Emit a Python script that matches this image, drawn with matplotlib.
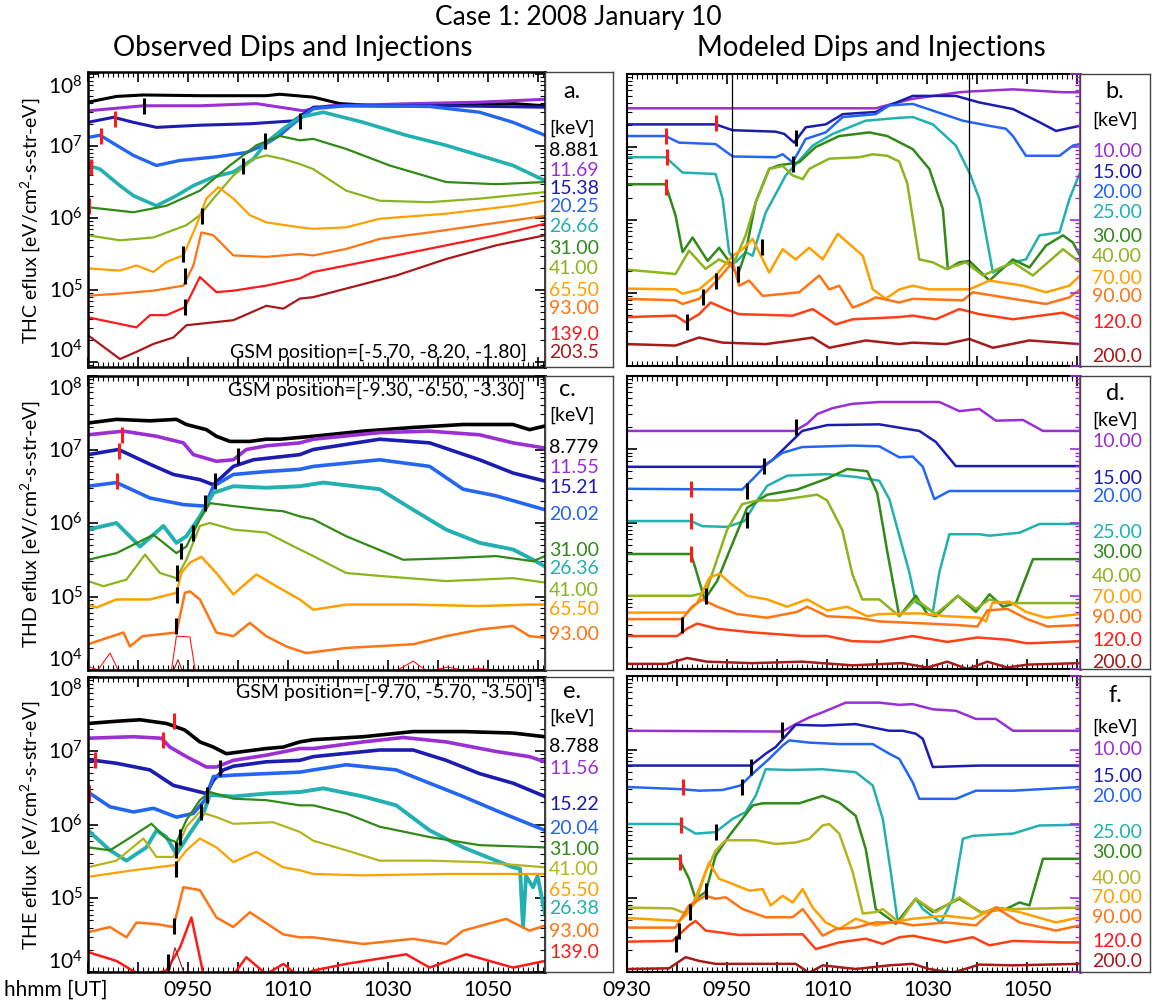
import matplotlib
matplotlib.use('Agg')
import matplotlib.pyplot as plt
import matplotlib.transforms as mtransforms
import numpy as np
from matplotlib.ticker import MultipleLocator, FuncFormatter, LogLocator, NullFormatter

plt.rcParams['font.family'] = ['Lato', 'DejaVu Sans']
plt.rcParams['mathtext.fontset'] = 'custom'
plt.rcParams['mathtext.rm'] = 'Lato'
plt.rcParams['mathtext.it'] = 'Lato:italic'

# time = minutes after 09:30 UT, flux given as log10(eV/cm2-s-str-eV)

# ---- panel a: THC observed ----
a_energy = ['8.881', '11.69', '15.38', '20.25', '26.66', '31.00', '41.00', '65.50', '93.00', '139.0', '203.5']
a_time = [
    [0, 5.7, 11.1, 22.4, 35.7, 38.4, 45.1, 50.4, 58.4, 71.7, 85.1, 91.5],
    [0, 11.1, 22.4, 33.7, 40.4, 43.1, 48.4, 65.1, 78.4, 91.5],
    [0, 5.1, 9.1, 13.7, 22.4, 32.4, 41.1, 45.1, 51.7, 71.7, 91.5],
    [0, 2.4, 9.1, 13.7, 18.4, 25.7, 31.7, 35.1, 38.4, 41.1, 45.1, 51.7, 68.4, 78.4, 85.1, 91.5],
    [0, 2.4, 6.4, 9.1, 13.7, 17.7, 21.1, 25.1, 29.1, 33.1, 35.7, 39.1, 42.4, 47.1, 55.1, 63.7, 71.7, 78.4, 85.1, 91.5],
    [0, 9.1, 15.7, 22.4, 28.4, 33.7, 38.4, 42.4, 45.1, 51.7, 60.4, 71.7, 81.7, 91.5],
    [0, 6.4, 13.1, 19.7, 22.4, 25.1, 29.1, 33.1, 35.7, 39.1, 42.4, 45.1, 51.7, 58.4, 68.4, 78.4, 91.5],
    [0, 6.4, 9.7, 13.1, 15.7, 19.1, 21.7, 23.7, 26.1, 29.1, 32.4, 35.7, 42.4, 45.1, 51.7, 58.4, 71.7, 85.1, 91.5],
    [0, 6.4, 13.1, 19.1, 21.1, 22.7, 25.1, 29.1, 35.7, 42.4, 45.1, 51.7, 58.4, 68.4, 78.4, 91.5],
    [0, 9.7, 12.4, 15.7, 19.4, 22.4, 25.7, 29.1, 35.7, 42.4, 45.1, 51.7, 61.7, 71.7, 81.7, 91.5],
    [0, 6.4, 9.7, 13.1, 17.1, 19.7, 29.1, 35.7, 39.1, 42.4, 45.1, 51.7, 61.7, 71.7, 81.7, 91.5],
]
a_logf = [
    [7.61, 7.69, 7.71, 7.70, 7.70, 7.72, 7.68, 7.59, 7.56, 7.57, 7.59, 7.56],
    [7.49, 7.56, 7.56, 7.59, 7.52, 7.49, 7.56, 7.59, 7.61, 7.65],
    [7.33, 7.40, 7.33, 7.26, 7.29, 7.31, 7.35, 7.54, 7.56, 7.56, 7.54],
    [7.12, 7.15, 6.87, 6.73, 6.80, 6.85, 6.91, 7.01, 7.15, 7.31, 7.52, 7.56, 7.55, 7.47, 7.33, 7.15],
    [6.73, 6.68, 6.45, 6.31, 6.17, 6.31, 6.45, 6.57, 6.64, 6.82, 7.05, 7.24, 7.40, 7.47, 7.33, 7.15, 7.01, 6.87, 6.73, 6.52],
    [6.15, 6.08, 6.17, 6.38, 6.73, 7.01, 7.14, 7.08, 7.10, 6.96, 6.73, 6.50, 6.47, 6.50],
    [5.76, 5.69, 5.73, 5.90, 6.04, 6.27, 6.59, 6.82, 6.87, 6.82, 6.75, 6.68, 6.38, 6.24, 6.22, 6.27, 6.36],
    [5.30, 5.27, 5.34, 5.25, 5.39, 5.48, 5.90, 6.27, 6.43, 6.27, 6.04, 5.94, 5.87, 5.85, 5.87, 5.99, 6.06, 6.17, 6.24],
    [4.92, 4.95, 4.99, 5.06, 5.34, 5.80, 5.76, 5.48, 5.46, 5.50, 5.48, 5.57, 5.71, 5.80, 5.90, 6.03],
    [4.62, 4.48, 4.65, 4.65, 4.76, 5.18, 4.97, 4.99, 5.06, 5.16, 5.25, 5.34, 5.48, 5.62, 5.76, 5.92],
    [4.37, 4.04, 4.14, 4.25, 4.34, 4.51, 4.58, 4.78, 4.74, 4.88, 4.90, 5.02, 5.20, 5.43, 5.62, 5.76],
]
a_red_t = [5.4, 2.7, 0.6, 0.2]
a_red_v = [7.38, 7.14, 6.71, 6.17]
a_blk_t = [11.2, 42.4, 35.4, 31.0, 22.8, 19.0, 19.4, 19.4]
a_blk_v = [7.56, 7.35, 7.07, 6.72, 6.03, 5.50, 5.20, 4.77]

# ---- panel c: THD observed ----
c_energy = ['8.779', '11.55', '15.21', '20.02', '31.00', '26.36', '41.00', '65.50', '93.00']
c_time = [
    [0, 5.7, 12.4, 17.7, 19.7, 23.7, 25.7, 28.4, 32.4, 35.7, 38.4, 45.1, 55.1, 65.1, 75.1, 85.1, 88.4, 91.5],
    [0, 7.1, 13.7, 19.1, 21.1, 25.7, 29.1, 31.7, 35.7, 42.4, 45.1, 58.4, 68.4, 78.4, 85.1, 91.5],
    [0, 6.1, 12.4, 17.1, 22.4, 25.1, 29.1, 33.1, 42.4, 45.1, 58.4, 68.4, 78.4, 85.1, 91.5],
    [0, 5.7, 12.4, 19.1, 23.4, 25.1, 29.1, 35.7, 42.4, 45.1, 58.4, 68.4, 75.1, 81.7, 91.5],
    [0, 5.7, 10.4, 15.1, 17.7, 19.7, 22.4, 25.1, 29.1, 35.7, 42.4, 47.1, 58.4, 65.1, 71.7, 78.4, 85.1, 89.1, 91.5],
    [0, 5.7, 13.1, 17.7, 19.7, 22.4, 24.4, 29.1, 35.7, 39.1, 42.4, 45.1, 51.7, 63.1, 71.7, 81.7, 89.1, 91.5],
    [0, 3.1, 7.7, 11.4, 14.4, 17.7, 19.7, 22.4, 24.4, 29.1, 35.7, 42.4, 45.1, 51.7, 58.4, 71.7, 85.1, 91.5],
    [0, 1.7, 5.7, 12.4, 17.7, 18.7, 20.4, 22.7, 25.7, 29.1, 33.7, 37.7, 42.4, 45.1, 51.7, 65.1, 78.4, 88.4, 91.5],
    [0, 7.1, 8.4, 10.9, 17.7, 19.4, 20.4, 22.4, 25.7, 29.1, 32.4, 35.7, 39.7, 43.7, 51.7, 65.1, 71.7, 78.4, 85.1, 88.4, 91.5],
    [0, 2.0, 4.4, 6.4, 9.0, 16.5, 17.7, 20.4, 21.7, 25.0, 50.0, 55.0, 58.4, 62.0, 65.1, 68.0, 72.0, 75.0, 78.0, 82.0, 91.5],
    [0, 16.0, 18.0, 20.0, 91.5],
]
c_logf = [
    [7.36, 7.41, 7.39, 7.41, 7.34, 7.27, 7.18, 7.11, 7.11, 7.14, 7.14, 7.18, 7.25, 7.30, 7.34, 7.34, 7.27, 7.32],
    [7.20, 7.25, 7.18, 7.09, 6.93, 6.84, 6.86, 7.00, 7.05, 7.09, 7.14, 7.23, 7.25, 7.20, 7.09, 7.02],
    [6.93, 7.00, 6.80, 6.66, 6.59, 6.52, 6.77, 6.86, 6.93, 7.00, 7.14, 7.09, 6.86, 6.68, 6.57],
    [6.50, 6.55, 6.34, 6.25, 6.23, 6.50, 6.66, 6.70, 6.73, 6.77, 6.86, 6.77, 6.46, 6.37, 6.18],
    [5.91, 6.00, 5.68, 5.96, 5.73, 5.82, 6.09, 6.41, 6.50, 6.48, 6.50, 6.55, 6.46, 6.18, 5.91, 5.73, 5.64, 5.50, 5.41],
    [5.50, 5.59, 5.84, 5.59, 5.68, 6.05, 6.27, 6.23, 6.18, 6.16, 6.09, 6.05, 5.82, 5.50, 5.52, 5.55, 5.48, 5.55],
    [5.21, 5.14, 5.23, 5.57, 5.32, 5.25, 5.50, 5.96, 6.00, 5.91, 5.87, 5.64, 5.55, 5.32, 5.28, 5.21, 5.25, 5.19],
    [4.89, 4.85, 4.96, 4.96, 5.05, 5.32, 5.46, 5.54, 5.32, 5.03, 5.30, 5.14, 4.96, 4.82, 4.89, 4.89, 4.87, 4.89, 4.89],
    [4.35, 4.51, 4.32, 4.46, 4.51, 5.05, 5.07, 4.96, 4.51, 4.46, 4.64, 4.46, 4.32, 4.23, 4.30, 4.35, 4.46, 4.55, 4.60, 4.46, 4.44],
    [4.05, 4.00, 4.23, 3.95, 3.90, 3.90, 4.46, 4.45, 3.90, 3.80, 3.90, 4.00, 3.97, 4.00, 4.12, 3.98, 4.04, 4.00, 4.02, 4.00, 3.90],
    [3.80, 3.80, 4.14, 3.80, 3.80],
]
c_red_t = [6.9, 6.2, 5.9]
c_red_v = [7.20, 6.98, 6.57]
c_blk_t = [30.1, 25.4, 23.4, 21.1, 18.7, 17.9, 17.9, 17.7]
c_blk_v = [6.91, 6.57, 6.27, 5.86, 5.62, 5.32, 5.02, 4.60]

# ---- panel e: THE observed ----
e_energy = ['8.788', '11.56', '15.22', '20.04', '31.00', '41.00', '65.50', '26.38', '93.00', '139.0']
e_time = [
    [0, 5.7, 10.4, 15.7, 17.4, 19.4, 22.4, 25.1, 27.7, 31.1, 35.7, 39.1, 42.4, 45.1, 55.1, 65.1, 75.1, 85.1, 91.5],
    [0, 9.1, 14.7, 16.4, 19.7, 23.7, 25.7, 29.1, 35.7, 42.4, 45.1, 55.1, 63.1, 71.7, 81.7, 88.4, 91.5],
    [0, 5.7, 12.4, 17.1, 23.7, 25.1, 27.1, 29.1, 35.7, 42.4, 45.1, 58.4, 65.1, 71.7, 78.4, 85.1, 91.5],
    [0, 4.4, 9.1, 13.1, 17.7, 21.1, 23.4, 25.1, 29.1, 35.7, 42.4, 45.1, 51.7, 61.7, 68.4, 75.1, 81.7, 91.5],
    [0, 4.4, 7.7, 11.7, 13.7, 15.7, 17.7, 20.4, 23.1, 24.4, 29.1, 35.7, 42.4, 47.1, 55.1, 61.7, 68.4, 75.1, 81.7, 85.1, 86.5, 87.1, 87.7, 89.1, 90.0, 91.5],
    [0, 4.4, 7.7, 12.7, 15.7, 17.7, 19.7, 22.4, 24.4, 29.1, 35.7, 42.4, 45.1, 51.7, 58.4, 68.4, 78.4, 91.5],
    [0, 5.7, 11.1, 13.7, 17.1, 19.7, 22.4, 25.7, 29.1, 37.1, 42.4, 45.1, 51.7, 58.4, 68.4, 78.4, 91.5],
    [0, 9.1, 17.4, 19.7, 22.4, 25.7, 29.1, 33.7, 39.1, 42.4, 45.1, 55.1, 71.7, 85.1, 91.5],
    [0, 4.4, 7.7, 9.7, 13.7, 17.1, 19.1, 22.4, 25.7, 29.1, 32.4, 39.1, 42.4, 45.1, 55.1, 65.1, 71.7, 75.1, 83.7, 88.4, 91.5],
    [0, 5.7, 11.1, 15.7, 18.4, 20.7, 23.1, 26.0, 29.0, 31.7, 35.7, 39.1, 42.4, 45.1, 51.7, 63.7, 68.4, 75.7, 85.1, 91.5],
    [0, 16.1, 17.4, 19.7, 91.5],
]
e_logf = [
    [7.37, 7.40, 7.42, 7.37, 7.33, 7.28, 7.12, 7.05, 6.96, 6.99, 7.03, 7.05, 7.12, 7.15, 7.19, 7.26, 7.26, 7.24, 7.19],
    [7.17, 7.19, 7.17, 7.05, 6.92, 6.78, 6.78, 6.87, 6.94, 7.03, 7.03, 7.12, 7.18, 7.12, 6.99, 6.92, 6.85],
    [6.88, 6.83, 6.74, 6.53, 6.42, 6.60, 6.74, 6.79, 6.85, 6.87, 6.92, 7.01, 7.01, 6.87, 6.69, 6.56, 6.38],
    [6.44, 6.24, 6.17, 6.22, 6.10, 6.15, 6.33, 6.65, 6.67, 6.69, 6.71, 6.74, 6.81, 6.74, 6.56, 6.38, 6.19, 5.92],
    [5.92, 5.65, 5.51, 5.69, 5.92, 5.83, 5.60, 5.88, 6.15, 6.40, 6.38, 6.42, 6.44, 6.49, 6.38, 6.26, 5.92, 5.69, 5.51, 5.42, 5.40, 4.61, 5.30, 5.15, 5.30, 4.79],
    [5.69, 5.65, 5.79, 6.01, 5.81, 5.76, 6.06, 6.33, 6.44, 6.35, 6.33, 6.26, 6.26, 6.15, 5.97, 5.83, 5.72, 5.69],
    [5.42, 5.51, 5.81, 5.56, 5.56, 5.97, 6.17, 6.10, 6.01, 6.03, 5.90, 5.78, 5.65, 5.51, 5.51, 5.49, 5.42],
    [5.29, 5.38, 5.45, 5.65, 5.81, 5.69, 5.49, 5.63, 5.42, 5.38, 5.33, 5.31, 5.33, 5.33, 5.33],
    [4.54, 4.61, 4.47, 4.67, 4.65, 4.61, 5.15, 5.11, 4.74, 4.61, 4.81, 4.51, 4.47, 4.47, 4.38, 4.45, 4.38, 4.56, 4.72, 4.56, 4.63],
    [4.27, 4.15, 3.93, 4.02, 4.33, 4.74, 3.97, 3.85, 3.95, 4.20, 3.97, 4.11, 3.93, 4.02, 4.11, 4.24, 4.06, 4.24, 4.06, 4.15],
    [3.80, 3.95, 4.33, 3.90, 3.80],
]
e_red_t = [17.2, 15.1, 1.4, 0.3]
e_red_v = [7.40, 7.15, 6.87, 6.43]
e_blk_t = [26.4, 23.9, 22.6, 18.4, 17.7, 17.6, 17.2, 16.1]
e_blk_v = [6.76, 6.40, 6.17, 5.83, 5.65, 5.40, 4.63, 4.13]

# ---- model energies (panels b, d, f) ----
m_energy = ['10.00', '15.00', '20.00', '25.00', '30.00', '40.00', '70.00', '90.00', '120.0', '200.0']

# ---- panel b: modeled at THC ----
b_time = [
    [0, 49.7, 52.4, 57.1, 66.4, 68.4, 77.1, 87.1, 90.5],
    [0, 17.7, 21.1, 29.7, 31.4, 33.4, 35.7, 39.7, 43.1, 49.7, 52.4, 57.1, 65.7, 70.4, 77.1, 82.4, 85.7, 87.7, 90.5],
    [0, 7.7, 10.4, 17.7, 21.1, 29.7, 31.1, 33.1, 35.7, 39.7, 43.1, 49.7, 52.4, 57.1, 67.1, 72.4, 75.7, 77.1, 79.7, 86.4, 89.1, 90.5],
    [0, 7.7, 11.1, 17.7, 19.1, 20.4, 21.7, 23.7, 25.1, 27.7, 31.7, 37.1, 41.1, 47.7, 54.4, 57.1, 61.1, 65.7, 68.4, 70.4, 73.1, 77.1, 79.7, 82.4, 86.4, 88.4, 90.5],
    [0, 7.7, 9.7, 11.1, 13.1, 16.1, 18.4, 20.1, 22.1, 23.7, 25.7, 28.4, 30.4, 34.4, 37.7, 42.4, 48.4, 52.0, 57.1, 60.4, 63.1, 64.1, 66.4, 68.4, 72.4, 77.1, 80.4, 83.7, 87.1, 89.1, 90.5],
    [0, 9.7, 12.4, 15.7, 18.4, 21.1, 23.7, 25.7, 28.4, 31.1, 33.1, 35.1, 36.4, 40.4, 46.4, 49.1, 52.0, 54.4, 56.0, 58.4, 61.1, 63.7, 67.7, 71.1, 77.1, 81.1, 87.1, 90.5],
    [0, 9.7, 11.1, 14.4, 17.7, 21.1, 23.1, 25.1, 28.4, 31.1, 33.7, 36.4, 39.1, 42.1, 47.1, 49.1, 51.7, 54.4, 57.1, 60.4, 68.4, 72.4, 79.1, 83.7, 88.4, 90.5],
    [0, 9.7, 11.1, 14.4, 17.7, 21.1, 22.4, 24.4, 27.1, 34.4, 38.4, 40.4, 42.4, 45.1, 47.7, 49.7, 54.4, 57.1, 67.1, 69.1, 77.1, 83.7, 88.4, 90.5],
    [0, 9.7, 11.7, 14.4, 16.7, 19.7, 22.4, 33.1, 37.1, 41.7, 45.1, 54.4, 57.1, 61.7, 66.4, 70.4, 77.1, 87.1, 90.5],
    [0, 9.7, 14.4, 19.1, 27.7, 33.1, 37.1, 40.4, 47.7, 54.4, 57.1, 63.7, 68.4, 73.1, 80.4, 90.5],
]
b_logf = [
    [7.53, 7.53, 7.58, 7.66, 7.75, 7.76, 7.79, 7.75, 7.75],
    [7.31, 7.31, 7.23, 7.21, 7.18, 7.06, 7.27, 7.31, 7.45, 7.48, 7.57, 7.70, 7.70, 7.61, 7.52, 7.34, 7.22, 7.25, 7.29],
    [7.15, 7.15, 7.06, 7.04, 6.87, 6.86, 6.90, 6.79, 7.11, 7.20, 7.41, 7.45, 7.57, 7.59, 7.36, 7.29, 7.25, 7.15, 6.88, 6.88, 7.02, 7.04],
    [6.86, 6.86, 6.65, 6.63, 6.29, 5.56, 5.42, 5.56, 5.51, 6.10, 6.61, 7.02, 7.18, 7.36, 7.40, 7.41, 7.31, 7.02, 6.65, 6.29, 5.28, 5.42, 5.46, 5.79, 5.83, 6.29, 6.65],
    [6.49, 6.49, 6.06, 5.56, 5.76, 5.44, 5.62, 5.46, 5.24, 5.56, 6.24, 6.70, 6.75, 6.79, 7.00, 7.15, 7.20, 7.15, 6.97, 6.70, 6.15, 5.33, 5.42, 5.44, 5.17, 5.46, 5.35, 5.65, 5.79, 5.69, 5.51],
    [5.32, 5.26, 5.58, 5.33, 5.46, 5.37, 5.79, 6.24, 6.70, 6.74, 6.61, 6.56, 6.70, 6.84, 6.86, 6.90, 6.88, 6.80, 6.50, 5.46, 5.42, 5.33, 5.42, 5.24, 5.42, 5.24, 5.60, 5.42],
    [5.06, 5.05, 4.99, 5.05, 5.24, 5.51, 5.60, 5.74, 5.28, 5.60, 5.46, 5.62, 5.46, 5.81, 5.51, 5.05, 4.92, 5.05, 5.10, 5.05, 5.05, 5.17, 5.10, 5.01, 5.10, 5.24],
    [4.92, 4.90, 4.85, 4.92, 5.15, 5.42, 5.10, 5.17, 4.96, 5.01, 5.24, 5.05, 5.10, 4.80, 4.87, 4.94, 4.87, 4.92, 4.90, 5.01, 4.92, 4.85, 4.94, 5.05],
    [4.67, 4.69, 4.60, 4.71, 4.87, 4.78, 4.71, 4.69, 4.78, 4.57, 4.64, 4.67, 4.69, 4.64, 4.78, 4.71, 4.64, 4.73, 4.64],
    [4.30, 4.28, 4.39, 4.32, 4.30, 4.35, 4.39, 4.25, 4.35, 4.30, 4.32, 4.30, 4.37, 4.25, 4.35, 4.30],
]
b_red_t = [17.7, 7.7, 7.9, 7.7]
b_red_v = [7.33, 7.15, 6.86, 6.45]
b_blk_t = [33.7, 33.1, 26.9, 22.1, 17.7, 15.1, 11.9]
b_blk_v = [7.12, 6.77, 5.63, 5.26, 5.17, 4.94, 4.60]
b_vlines = [20.9, 68.4]

# ---- panel d: modeled at THD ----
d_time = [
    [0, 33.5, 36.0, 38.0, 41.0, 45.0, 50.4, 62.4, 66.4, 70.4, 73.7, 79.1, 83.1, 90.5],
    [0, 27.0, 29.0, 32.0, 35.0, 40.0, 50.4, 58.4, 61.7, 65.7, 90.5],
    [0, 23.0, 25.5, 28.0, 31.0, 35.0, 45.0, 50.4, 54.4, 57.1, 59.1, 61.4, 64.4, 90.5],
    [0, 12.8, 15.0, 20.0, 23.5, 26.0, 28.0, 32.0, 40.0, 46.0, 50.4, 52.4, 54.4, 56.4, 57.7, 61.1, 62.4, 64.4, 70.4, 72.4, 78.4, 82.4, 90.5],
    [0, 12.8, 14.0, 15.5, 18.0, 21.0, 24.0, 28.0, 34.0, 40.0, 44.0, 48.0, 50.0, 52.0, 54.4, 57.7, 60.0, 61.7, 66.1, 69.7, 72.4, 75.1, 77.7, 81.1, 90.5],
    [0, 13.0, 15.8, 18.0, 20.0, 23.0, 26.0, 30.0, 35.0, 38.0, 40.0, 43.0, 45.0, 47.0, 50.4, 54.4, 57.7, 61.7, 66.1, 69.7, 72.4, 75.0, 80.0, 90.5],
    [0, 12.0, 14.0, 16.5, 18.5, 21.0, 24.0, 28.0, 32.0, 36.0, 40.0, 44.0, 48.0, 50.4, 58.4, 64.0, 70.4, 71.7, 73.0, 76.4, 79.7, 83.7, 90.5],
    [0, 11.0, 13.0, 15.0, 18.0, 22.0, 28.0, 34.0, 36.0, 40.0, 46.0, 50.4, 60.0, 66.0, 70.0, 72.0, 76.0, 80.0, 84.0, 90.5],
    [0, 10.0, 12.0, 14.0, 18.0, 25.0, 35.0, 40.0, 45.0, 50.4, 57.0, 64.0, 70.0, 76.0, 80.0, 90.5],
    [0, 8.0, 12.0, 16.0, 25.0, 35.0, 45.0, 55.0, 60.0, 64.0, 68.0, 72.0, 76.0, 80.0, 90.5],
]
d_logf = [
    [7.25, 7.25, 7.35, 7.48, 7.56, 7.62, 7.645, 7.645, 7.52, 7.55, 7.39, 7.40, 7.25, 7.25],
    [6.76, 6.76, 6.85, 7.05, 7.25, 7.33, 7.34, 7.25, 7.10, 6.77, 6.77],
    [6.46, 6.45, 6.62, 6.80, 6.95, 7.03, 7.05, 7.04, 6.89, 6.90, 6.76, 6.32, 6.43, 6.43],
    [6.02, 6.02, 5.95, 5.94, 6.02, 6.30, 6.50, 6.64, 6.66, 6.62, 6.57, 6.32, 5.82, 5.32, 4.91, 4.78, 5.32, 5.84, 5.84, 5.82, 5.86, 5.98, 5.98],
    [5.57, 5.57, 5.30, 4.95, 5.20, 5.70, 6.20, 6.38, 6.45, 6.60, 6.73, 6.70, 6.40, 5.60, 4.72, 5.00, 4.75, 4.72, 5.00, 4.78, 5.02, 4.85, 4.90, 5.50, 5.50],
    [5.00, 5.00, 5.05, 5.50, 5.90, 6.25, 6.30, 6.30, 6.35, 6.38, 6.30, 5.90, 5.30, 4.95, 4.95, 4.72, 4.95, 4.75, 5.00, 4.82, 4.95, 4.90, 4.90, 4.90],
    [4.77, 4.77, 4.90, 5.25, 5.30, 5.15, 5.00, 4.95, 4.85, 4.95, 4.80, 4.85, 4.72, 4.75, 4.76, 4.72, 4.70, 4.65, 4.90, 4.92, 4.78, 4.70, 4.75],
    [4.68, 4.68, 4.85, 4.95, 4.85, 4.75, 4.70, 4.78, 4.85, 4.72, 4.70, 4.65, 4.62, 4.60, 4.58, 4.80, 4.82, 4.68, 4.58, 4.60],
    [4.45, 4.45, 4.55, 4.62, 4.55, 4.50, 4.45, 4.45, 4.38, 4.37, 4.45, 4.37, 4.43, 4.40, 4.35, 4.38],
    [4.07, 4.07, 4.15, 4.10, 4.08, 4.10, 4.05, 4.08, 4.02, 4.10, 4.00, 4.10, 4.02, 4.06, 4.08],
]
d_red_t = [12.8, 12.8, 12.8]
d_red_v = [6.46, 6.02, 5.57]
d_blk_t = [33.8, 27.4, 24.0, 24.0, 15.8, 11.0]
d_blk_v = [7.30, 6.77, 6.43, 6.03, 5.00, 4.60]

# ---- panel f: modeled at THE ----
f_time = [
    [0, 31.1, 33.7, 36.4, 39.1, 43.7, 50.4, 54.4, 57.1, 61.1, 65.7, 69.7, 73.7, 77.1, 90.5],
    [0, 24.7, 27.7, 29.7, 31.7, 33.7, 39.1, 45.7, 52.4, 55.1, 57.7, 59.1, 61.1, 70.4, 90.5],
    [0, 11.1, 14.4, 19.1, 22.7, 25.1, 28.4, 31.1, 32.4, 36.4, 42.4, 49.1, 52.4, 54.4, 57.1, 58.4, 65.7, 69.7, 77.1, 90.5],
    [0, 10.4, 13.7, 17.7, 21.1, 23.7, 25.7, 27.7, 32.4, 39.1, 45.7, 49.1, 51.1, 52.7, 54.1, 57.7, 59.1, 62.7, 65.1, 67.1, 69.1, 77.1, 82.4, 90.5],
    [0, 10.4, 12.4, 13.7, 15.7, 17.7, 20.4, 25.1, 27.1, 34.4, 39.1, 42.4, 45.7, 47.7, 49.7, 52.4, 53.7, 57.7, 61.1, 66.4, 71.1, 73.7, 75.7, 78.4, 80.4, 83.1, 90.5],
    [0, 9.1, 11.7, 13.7, 15.7, 17.7, 19.7, 25.7, 29.7, 33.7, 36.4, 39.1, 40.4, 42.4, 45.1, 47.1, 49.7, 51.1, 54.4, 57.7, 61.7, 66.4, 70.4, 77.1, 83.7, 90.5],
    [0, 10.4, 12.4, 14.4, 16.4, 18.4, 21.1, 24.4, 27.1, 28.7, 31.1, 33.1, 35.1, 37.1, 39.7, 42.4, 45.7, 49.7, 54.4, 57.1, 63.7, 69.1, 73.7, 78.4, 85.7, 90.5],
    [0, 9.7, 12.4, 15.7, 17.7, 19.7, 23.1, 27.7, 33.1, 35.1, 39.1, 41.7, 45.7, 49.7, 54.4, 57.1, 63.7, 69.7, 73.7, 78.4, 85.7, 90.5],
    [0, 9.1, 12.4, 13.7, 15.7, 22.4, 35.1, 37.7, 42.4, 47.7, 51.1, 54.4, 57.1, 63.7, 69.1, 72.4, 77.1, 87.1, 90.5],
    [0, 8.4, 11.7, 14.4, 17.7, 33.7, 36.4, 39.1, 45.7, 52.4, 57.1, 60.4, 65.1, 70.4, 77.1, 90.5],
]
f_logf = [
    [7.26, 7.25, 7.35, 7.44, 7.51, 7.64, 7.64, 7.61, 7.62, 7.55, 7.53, 7.42, 7.42, 7.26, 7.26],
    [6.79, 6.79, 6.95, 7.04, 7.19, 7.34, 7.33, 7.35, 7.26, 7.26, 7.22, 7.15, 6.77, 6.79, 6.79],
    [6.50, 6.47, 6.45, 6.46, 6.52, 6.68, 6.88, 7.06, 7.13, 7.10, 7.08, 7.08, 6.95, 6.88, 6.56, 6.34, 6.34, 6.45, 6.45, 6.50],
    [6.00, 6.00, 5.87, 5.89, 6.07, 6.16, 6.38, 6.74, 6.73, 6.74, 6.70, 6.52, 6.07, 5.35, 4.67, 4.99, 4.85, 4.67, 4.99, 5.80, 5.84, 5.87, 5.98, 5.99],
    [5.53, 5.53, 5.26, 4.99, 5.08, 5.57, 5.84, 6.25, 6.28, 6.28, 6.38, 6.29, 6.11, 5.66, 4.85, 4.72, 4.65, 4.99, 4.81, 4.99, 4.79, 4.87, 4.85, 4.94, 4.90, 5.53, 5.53],
    [4.87, 4.86, 4.79, 4.94, 5.35, 5.64, 5.78, 5.78, 5.73, 5.75, 5.80, 5.98, 6.00, 5.87, 5.35, 4.79, 4.81, 4.85, 4.67, 4.99, 4.81, 5.01, 4.81, 4.85, 4.86, 4.87],
    [4.73, 4.69, 4.81, 5.12, 5.48, 5.26, 5.19, 5.10, 5.12, 4.90, 5.03, 4.94, 5.12, 4.87, 4.67, 4.58, 4.72, 4.63, 4.69, 4.72, 4.76, 4.72, 4.87, 4.81, 4.67, 4.74],
    [4.60, 4.60, 4.90, 5.03, 4.99, 5.01, 4.85, 4.74, 4.74, 4.85, 4.49, 4.58, 4.60, 4.67, 4.67, 4.63, 4.67, 4.63, 4.87, 4.67, 4.56, 4.63],
    [4.41, 4.42, 4.63, 4.69, 4.56, 4.50, 4.51, 4.31, 4.40, 4.45, 4.38, 4.47, 4.49, 4.40, 4.47, 4.36, 4.42, 4.40, 4.40],
    [4.04, 4.05, 4.20, 4.15, 4.11, 4.11, 3.99, 4.09, 4.04, 4.09, 4.11, 4.04, 3.99, 4.10, 4.09, 4.11],
]
f_red_t = [11.2, 10.7, 10.5]
f_red_v = [6.50, 5.99, 5.48]
f_blk_t = [30.9, 24.7, 22.9, 17.7, 15.7, 12.6, 10.4, 9.7]
f_blk_v = [7.27, 6.77, 6.50, 5.89, 5.10, 4.81, 4.56, 4.38]

# colours
BLK, PUR, DBL, BLU, CYN = '#000000', '#9b2fd4', '#1c1cb0', '#2466f2', '#22b0b0'
GRN, YGR, OLV, ORG, DOR = '#318a18', '#8cb41e', '#b4b41e', '#ffa000', '#ff7414'
RED, ROR, DRD = '#ff1a1a', '#ff4014', '#a81a1a'

a_cols = [BLK, PUR, DBL, BLU, CYN, GRN, YGR, ORG, DOR, RED, DRD]
a_lw = [2.2, 2.2, 2.2, 2.4, 2.6, 1.6, 1.6, 1.6, 1.6, 1.6, 1.6]
c_cols = [BLK, PUR, DBL, BLU, CYN, GRN, YGR, ORG, DOR, RED, DRD]
c_lw = [2.6, 2.6, 2.6, 2.6, 2.8, 1.6, 1.6, 1.8, 1.8, 0.8, 0.8]
c_txt_cols = [BLK, PUR, DBL, BLU, GRN, CYN, YGR, ORG, DOR]
e_cols = [BLK, PUR, DBL, BLU, CYN, GRN, OLV, ORG, DOR, RED, DRD]
e_lw = [2.6, 2.6, 2.6, 2.6, 2.8, 1.6, 1.6, 1.6, 1.8, 1.8, 0.8]
e_txt_cols = [BLK, PUR, DBL, BLU, GRN, OLV, ORG, CYN, DOR, RED]
m_cols = [PUR, DBL, BLU, CYN, GRN, YGR, ORG, DOR, ROR, DRD]
m_cols_f = [PUR, DBL, BLU, CYN, GRN, OLV, ORG, DOR, ROR, DRD]
m_txt_cols = [PUR, DBL, BLU, CYN, GRN, YGR, ORG, DOR, RED, DRD]
m_txt_cols_f = [PUR, DBL, BLU, CYN, GRN, OLV, ORG, DOR, RED, DRD]

W, H = 1156, 1003
fig = plt.figure(figsize=(W / 100, H / 100), dpi=100)


def rect(x0, y0, x1, y1):
    return [x0 / W, 1 - y1 / H, (x1 - x0) / W, (y1 - y0) / H]


def put(x, y, s, **kw):
    kw.setdefault('va', 'center')
    fig.text(x / W, 1 - y / H, s, **kw)


def hhmm_formatter(shown):
    def f(t, pos):
        m = int(round(t))
        if m not in shown:
            return ''
        m += 30
        return '%02d%02d' % (9 + m // 60, m % 60)
    return FuncFormatter(f)


def base_axes(box, xmax, ylim):
    ax = fig.add_axes(rect(*box))
    ax.set_xlim(0, xmax)
    ax.set_yscale('log')
    ax.set_ylim(*ylim)
    ax.xaxis.set_major_locator(MultipleLocator(10))
    ax.xaxis.set_minor_locator(MultipleLocator(1))
    ax.yaxis.set_major_locator(LogLocator(base=10))
    ax.yaxis.set_minor_locator(LogLocator(base=10, subs=np.arange(2, 10)))
    ax.yaxis.set_major_formatter(NullFormatter())
    ax.yaxis.set_minor_formatter(NullFormatter())
    ax.tick_params(which='both', direction='in', top=True)
    ax.tick_params(which='major', length=7, width=1.2)
    ax.tick_params(which='minor', length=3.5, width=0.8)
    return ax


def draw_lines(ax, times, logs, cols, lws):
    for t, v, c, w in zip(times, logs, cols, lws):
        ax.plot(t, 10.0 ** np.array(v), color=c, lw=w, solid_joinstyle='round')


def draw_marks(ax, rt, rv, bt, bv):
    ax.plot(rt, 10.0 ** np.array(rv), ls='none', marker='|', ms=11, mew=2.2, color='#ff1a1a')
    ax.plot(bt, 10.0 ** np.array(bv), ls='none', marker='|', ms=11, mew=2.2, color='black')


def label_box(box):
    bx = fig.add_axes(rect(*box))
    bx.set_xticks([])
    bx.set_yticks([])
    for s in bx.spines.values():
        s.set_linewidth(1.0)
        s.set_color('#444444')
    return bx


def decade_labels(ax):
    tr = mtransforms.blended_transform_factory(ax.transAxes, ax.transData)
    for k in range(4, 9):
        va = {8: 'top', 4: 'bottom'}.get(k, 'center')
        ax.text(-0.012, 10.0 ** k, r'$\mathdefault{10^{%d}}$' % k, transform=tr,
                ha='right', va=va, fontsize=15)


def obs_panel(box, times, logs, cols, lws, ylim, ylab, bottom):
    ax = base_axes(box, 91.5, ylim)
    ax.tick_params(which='both', right=True)
    decade_labels(ax)
    for s in ax.spines.values():
        s.set_linewidth(1.8)
    if bottom:
        ax.xaxis.set_major_formatter(hhmm_formatter([20, 40, 60, 80]))
        ax.tick_params(axis='x', labelsize=15, pad=5)
    else:
        ax.xaxis.set_major_formatter(NullFormatter())
    draw_lines(ax, times, logs, cols, lws)
    put(30, (box[1] + box[3]) / 2, ylab, rotation=90, ha='center', fontsize=14)
    return ax


def model_panel(box, times, logs, cols, bottom):
    ax = base_axes(box, 90.5, (1e4, 1e8))
    ax.tick_params(which='both', right=False)
    ax.spines['right'].set_visible(False)
    for s in ['left', 'top', 'bottom']:
        ax.spines[s].set_linewidth(1.5)
    if bottom:
        ax.xaxis.set_major_formatter(hhmm_formatter([0, 20, 40, 60, 80]))
        ax.tick_params(axis='x', labelsize=15, pad=5)
    else:
        ax.xaxis.set_major_formatter(NullFormatter())
    tw = ax.twinx()
    tw.set_yscale('log')
    tw.set_ylim(1e4, 1e8)
    tw.yaxis.set_major_locator(LogLocator(base=10))
    tw.yaxis.set_minor_locator(LogLocator(base=10, subs=np.arange(2, 10)))
    tw.yaxis.set_major_formatter(NullFormatter())
    tw.yaxis.set_minor_formatter(NullFormatter())
    tw.tick_params(which='both', direction='in', colors=PUR)
    tw.tick_params(which='major', length=7, width=1.2)
    tw.tick_params(which='minor', length=3.5, width=1.0)
    for s in ['left', 'top', 'bottom']:
        tw.spines[s].set_visible(False)
    tw.spines['right'].set_color(PUR)
    tw.spines['right'].set_linewidth(2.0)
    draw_lines(ax, times, logs, cols, [1.8] * len(times))
    return ax


# ---- left column: observed ----
ax_a = obs_panel((88, 73, 545, 368), a_time, a_logf, a_cols, a_lw, (8.5e3, 1.07e8),
                 'THC eflux [eV/cm$^2$-s-str-eV]', False)
draw_marks(ax_a, a_red_t, a_red_v, a_blk_t, a_blk_v)
ax_c = obs_panel((88, 377, 545, 671), c_time, c_logf, c_cols, c_lw, (1e4, 1e8),
                 'THD eflux [eV/cm$^2$-s-str-eV]', False)
draw_marks(ax_c, c_red_t, c_red_v, c_blk_t, c_blk_v)
ax_e = obs_panel((88, 678, 545, 973), e_time, e_logf, e_cols, e_lw, (1e4, 1e8),
                 'THE eflux  [eV/cm$^2$-s-str-eV]', True)
draw_marks(ax_e, e_red_t, e_red_v, e_blk_t, e_blk_v)

# ---- right column: modeled ----
ax_b = model_panel((627, 75, 1080, 367), b_time, b_logf, m_cols, False)
for xv in b_vlines:
    ax_b.axvline(xv, color='black', lw=0.9)
draw_marks(ax_b, b_red_t, b_red_v, b_blk_t, b_blk_v)
ax_d = model_panel((627, 377, 1080, 670), d_time, d_logf, m_cols, False)
draw_marks(ax_d, d_red_t, d_red_v, d_blk_t, d_blk_v)
ax_f = model_panel((627, 677, 1080, 973), f_time, f_logf, m_cols_f, True)
draw_marks(ax_f, f_red_t, f_red_v, f_blk_t, f_blk_v)

# ---- label boxes ----
for box in [(545, 73, 613, 368), (545, 377, 613, 671), (545, 678, 613, 973),
            (1080, 75, 1150, 367), (1080, 377, 1150, 670), (1080, 677, 1150, 973)]:
    label_box(box)

LBL = 14
put(572, 92, 'a.', ha='center', fontsize=17)
put(549, 128, '[keV]', ha='left', fontsize=LBL)
for s, c, y in zip(a_energy, a_cols, [151, 170, 188, 207, 227, 249, 269, 290, 309, 334, 353]):
    put(549, y, s, ha='left', fontsize=LBL, color=c)

put(567, 390, 'c.', ha='center', fontsize=17)
put(549, 415, '[keV]', ha='left', fontsize=LBL)
for s, c, y in zip(c_energy, c_txt_cols, [448, 468, 488, 514, 550, 568, 590, 610, 635]):
    put(549, y, s, ha='left', fontsize=LBL, color=c)

put(572, 692, 'e.', ha='center', fontsize=17)
put(549, 717, '[keV]', ha='left', fontsize=LBL)
for s, c, y in zip(e_energy, e_txt_cols, [747, 768, 805, 828, 850, 870, 890, 909, 932, 953]):
    put(549, y, s, ha='left', fontsize=LBL, color=c)

for letter, ly, ky, ys, tcols in [
        ('b.', 92, 120, [152, 173, 193, 213, 237, 257, 278, 297, 323, 357], m_txt_cols),
        ('d.', 393, 420, [442, 478, 497, 533, 553, 577, 598, 618, 640, 662], m_txt_cols),
        ('f.', 695, 727, [750, 777, 797, 833, 853, 878, 898, 918, 942, 962], m_txt_cols_f)]:
    put(1115, ly, letter, ha='center', fontsize=17)
    put(1092, ky, '[keV]', ha='left', fontsize=LBL)
    for s, c, y in zip(m_energy, tcols, ys):
        put(1092, y, s, ha='left', fontsize=LBL, color=c)

# GSM positions
put(527, 352, 'GSM position=[-5.70, -8.20, -1.80]', ha='right', fontsize=14)
put(525, 390, 'GSM position=[-9.30, -6.50, -3.30]', ha='right', fontsize=14)
put(533, 692, 'GSM position=[-9.70, -5.70, -3.50]', ha='right', fontsize=14)

# titles
put(578, 18, 'Case 1: 2008 January 10', ha='center', fontsize=19)
put(293, 48, 'Observed Dips and Injections', ha='center', fontsize=20)
put(871, 48, 'Modeled Dips and Injections', ha='center', fontsize=20)
put(4, 990, 'hhmm [UT]', ha='left', fontsize=15)

fig.savefig('out.png', dpi=100)
